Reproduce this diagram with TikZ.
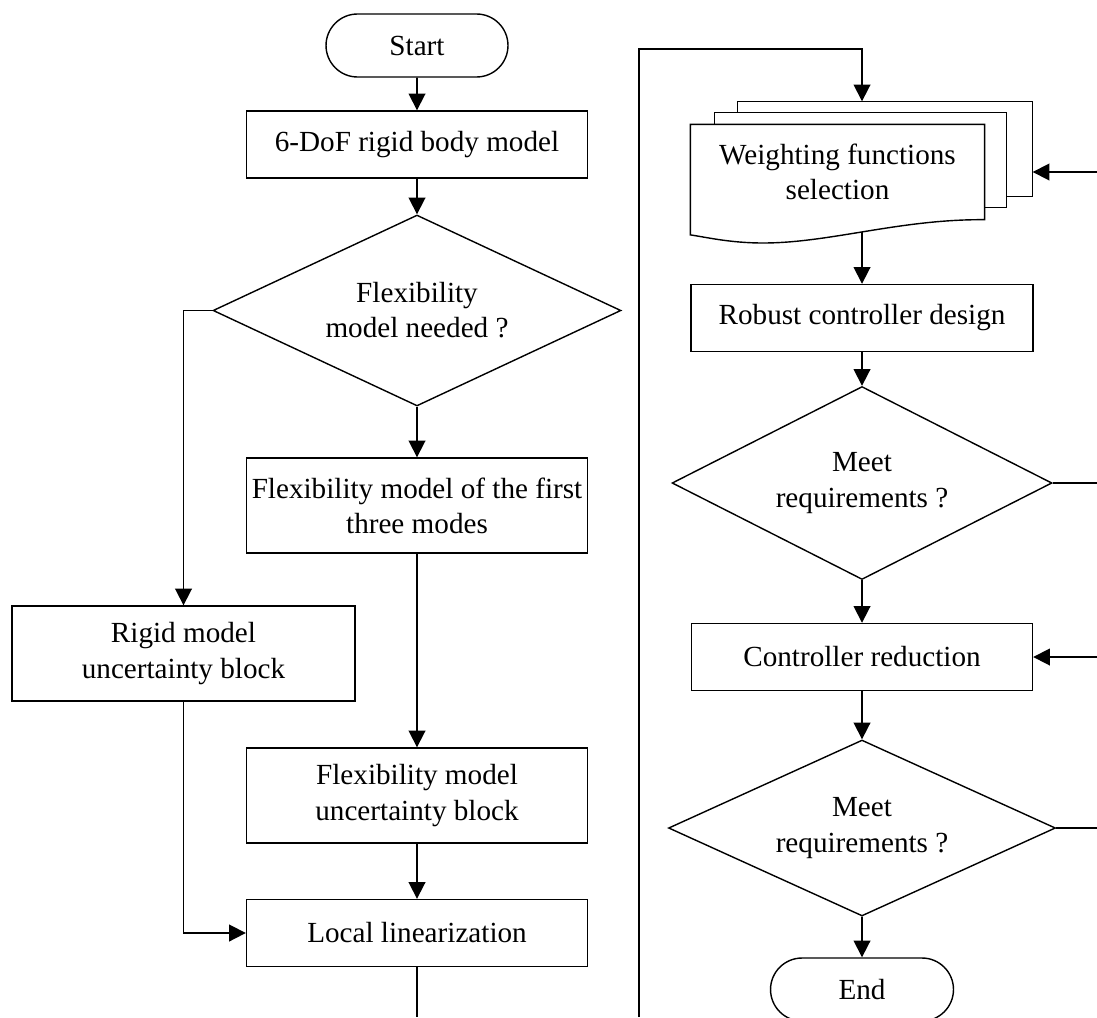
\documentclass[tikz,border=0pt]{standalone}
\usepackage{fontspec}
\setmainfont{Liberation Serif}
\usepackage{tikz}
\usetikzlibrary{arrows.meta,shapes.geometric,shapes.misc,positioning}

\begin{document}
\begin{tikzpicture}[x=0.02cm,y=-0.02cm,
	>={Triangle[length=9.5pt,width=9.5pt]},
	every node/.style={font=\fontsize{16.6}{20}\selectfont,align=center,line width=0.8pt},
	block/.style={rectangle,draw,minimum width=6.82cm,minimum height=1.34cm,inner sep=0pt},
	tallblock/.style={block,minimum height=1.9cm},
	terminal/.style={rounded rectangle,draw,minimum width=3.64cm,minimum height=1.26cm,inner sep=0pt},
	decision/.style={diamond,draw,inner sep=0pt,aspect=#1},
	docbox/.style={rectangle,inner sep=0pt,minimum height=1.88cm},
	flow/.style={->,line width=1pt},
	wire/.style={line width=1pt}]
\useasboundingbox (0,0) rectangle (1097,1017);

% left column
\node[terminal] (start) at (417,45.5) {Start};
\node[block] (dof) at (417,144.5) {6-DoF rigid body model};
\node[decision=2.14,minimum width=8.16cm,minimum height=3.82cm] (flexq) at (417,310.5) {Flexibility\\model needed ?};
\node[tallblock] (flexmod) at (417,505.5) {Flexibility model of the first\\three modes};
\node[tallblock,minimum width=6.86cm] (rigid) at (183.5,653.5) {Rigid model\\uncertainty block};
\node[tallblock] (flexunc) at (417,795.5) {Flexibility model\\uncertainty block};
\node[block] (linear) at (417,933) {Local linearization};

% right column
\node[docbox,minimum width=5.88cm] (wb) at (885,149) {};
\node[docbox,minimum width=5.82cm] (wm) at (860.5,160) {};
\node[docbox,minimum width=5.86cm] (wf) at (837.5,172) {Weighting functions\\selection};
\node[block,minimum width=6.84cm] (robust) at (862,318) {Robust controller design};
\node[decision=1.97,minimum width=7.6cm,minimum height=3.86cm] (meet1) at (862,483) {Meet\\requirements ?};
\node[block] (reduce) at (862,657) {Controller reduction};
\node[decision=2.2,minimum width=7.74cm,minimum height=3.52cm] (meet2) at (862,828) {Meet\\requirements ?};
\node[terminal,minimum width=3.66cm] (end) at (862,989.5) {End};

% stacked documents
\draw[line width=0.8pt] (wb.north west |- wm.north) -- (wb.north west) -- (wb.north east) -- (wb.south east) -- (wm.east |- wb.south);
\draw[line width=0.8pt] (wm.north west |- wf.north) -- (wm.north west) -- (wm.north east) -- (wm.south east) -- (wf.east |- wm.south);
\draw[line width=0.8pt] (wf.south west) ++(0,16) -- (wf.north west) -- (wf.north east) -- (wf.south east)
	.. controls (900,219) and (830,243) .. (763,243) .. controls (730,243) and (705,237) .. (691,235);

\coordinate (wout) at (862,232);
\coordinate (loopL) at (417,1017);
\coordinate (loopB) at (639,1017);
\coordinate (loopT) at (862,49);
\coordinate (back0) at (1097,172);
\coordinate (back1) at (1097,483);
\coordinate (back2) at (1097,657);
\coordinate (back3) at (1097,828);

\draw[flow] (start) -- (dof);
\draw[flow] (dof) -- (flexq);
\draw[flow] (flexq.west) -| (rigid.north);
\draw[flow] (flexq) -- (flexmod);
\draw[flow] (flexmod) -- (flexunc);
\draw[flow] (flexunc) -- (linear);
\draw[flow] (rigid.south) |- (linear.west);
\draw[wire] (linear.south) -- (loopL);

\draw[flow] (loopB) |- (loopT) -- (loopT |- wb.north);
\draw[flow] (back0) -- (back0 -| wb.east);
\draw[flow] (wout) -- (robust);
\draw[flow] (robust) -- (meet1);
\draw[wire] (meet1.east) -- (back1);
\draw[flow] (meet1) -- (reduce);
\draw[flow] (back2) -- (reduce.east);
\draw[flow] (reduce) -- (meet2);
\draw[wire] (meet2.east) -- (back3);
\draw[flow] (meet2) -- (end);

\end{tikzpicture}
\end{document}
